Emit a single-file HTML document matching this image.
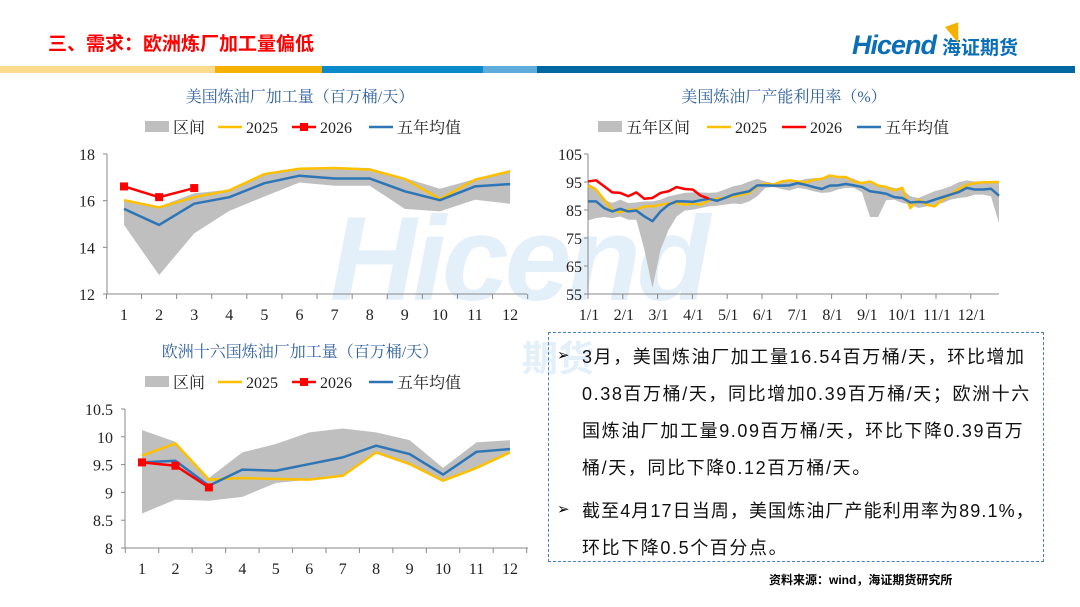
<!DOCTYPE html>
<html><head><meta charset="utf-8">
<style>
body{margin:0;width:1080px;height:607px;overflow:hidden;background:#fff;font-family:"Liberation Sans","Noto Sans CJK SC",sans-serif;position:relative}
.abs{position:absolute}
#hdr{left:48px;top:29px;color:#f00;font-size:19px;font-weight:bold;font-family:"Noto Sans CJK SC",sans-serif}
.bar{position:absolute;top:66px;height:7px}
#box{left:548px;top:332px;width:496px;height:230px;border:1.5px dashed #4a7cc0;box-sizing:border-box}
.txt{position:absolute;left:582px;font-size:18px;color:#111;font-family:"Liberation Sans","Noto Sans CJK SC",sans-serif;white-space:nowrap;letter-spacing:1.6px}
.arr{position:absolute;left:557px;font-size:15px}
svg text{font-family:"Liberation Serif","Noto Serif CJK SC",serif}
</style></head><body>
<div class="abs" style="left:330px;top:190px;font-size:120px;font-weight:bold;font-style:italic;color:#e4f0f9;font-family:'Liberation Sans',sans-serif;letter-spacing:-4px">Hicend</div>
<div class="abs" style="left:522px;top:330px;font-size:36px;font-weight:bold;color:#e4f0f9;font-family:'Noto Sans CJK SC',sans-serif">期货</div>
<div id="hdr" class="abs">三、需求：欧洲炼厂加工量偏低</div>
<div class="abs" style="left:852px;top:30px;font-size:27px;font-weight:bold;font-style:italic;color:#0a6fb6;letter-spacing:-1px">Hicend<span style="font-size:19px;font-style:normal;font-family:'Noto Sans CJK SC',sans-serif;margin-left:6px;letter-spacing:0">海证期货</span></div>
<div class="abs" style="left:948px;top:24px;width:0;height:0;border-left:7px solid transparent;border-right:7px solid transparent;border-top:20px solid #f5b000;transform:rotate(-20deg)"></div>
<div class="bar" style="left:0;width:215px;background:#fadc8c"></div>
<div class="bar" style="left:215px;width:107px;background:#f5b000"></div>
<div class="bar" style="left:322px;width:161px;background:#0a8ac8"></div>
<div class="bar" style="left:483px;width:54px;background:#5eacdc"></div>
<div class="bar" style="left:537px;width:538px;background:#0068a0"></div>

<svg id="svg" class="abs" style="left:0;top:0" width="1080" height="607"></svg>

<div id="box" class="abs"></div>
<div class="arr" style="top:346px">➢</div>
<div class="txt" style="top:343px">3月，美国炼油厂加工量16.54百万桶/天，环比增加</div>
<div class="txt" style="top:380px">0.38百万桶/天，同比增加0.39百万桶/天；欧洲十六</div>
<div class="txt" style="top:417px">国炼油厂加工量9.09百万桶/天，环比下降0.39百万</div>
<div class="txt" style="top:454px">桶/天，同比下降0.12百万桶/天。</div>
<div class="arr" style="top:500px">➢</div>
<div class="txt" style="top:497px;letter-spacing:1.1px">截至4月17日当周，美国炼油厂产能利用率为89.1%，</div>
<div class="txt" style="top:534px">环比下降0.5个百分点。</div>
<div class="abs" style="left:769px;top:571px;font-size:12px;font-weight:bold;font-family:'Liberation Sans','Noto Sans CJK SC',sans-serif">资料来源：wind，海证期货研究所</div>

<script>
// US refinery runs
const usMonths=[1,2,3,4,5,6,7,8,9,10,11,12];
const usHigh=[16.04,15.75,16.32,16.47,17.18,17.40,17.44,17.40,16.97,16.51,16.93,17.30];
const usLow=[14.96,12.81,14.60,15.56,16.18,16.78,16.64,16.64,15.65,15.54,16.04,15.87];
const us2025=[16.02,15.71,16.15,16.44,17.14,17.37,17.40,17.33,16.93,16.07,16.90,17.26];
const us2026=[16.61,16.15,16.54];
const usAvg=[15.65,14.96,15.87,16.15,16.75,17.07,16.95,16.95,16.40,16.02,16.61,16.71];
const usTicks=[12,14,16,18];
// Europe refinery runs
const euHigh=[10.12,9.91,9.26,9.72,9.87,10.08,10.15,10.08,9.94,9.44,9.90,9.94];
const euLow=[8.62,8.87,8.85,8.92,9.17,9.23,9.30,9.70,9.50,9.21,9.44,9.70];
const eu2025=[9.66,9.88,9.23,9.26,9.24,9.23,9.30,9.72,9.51,9.21,9.44,9.72];
const eu2026=[9.54,9.48,9.09];
const euAvg=[9.54,9.57,9.12,9.41,9.39,9.51,9.63,9.84,9.69,9.32,9.73,9.78];
const euTicks=[8,8.5,9,9.5,10,10.5];
const euTickLabels=["8","8.5","9","9.5","10","10.5"];
// US utilization weekly
const utMonthLabels=["1/1","2/1","3/1","4/1","5/1","6/1","7/1","8/1","9/1","10/1","11/1","12/1"];
const utTicks=[55,65,75,85,95,105];
const ut2025=[93.7,92.3,88.7,84.9,84.2,85.1,85.1,86.3,86.3,86.9,87.3,87.5,86.9,87.3,86.9,88.5,89.0,89.3,89.9,90.5,91.1,93.5,94.4,94.0,95.2,95.6,95.2,94.9,95.8,96.1,97.3,96.8,96.8,95.2,94.6,95.2,93.7,93.2,92.0,92.9,85.7,88.7,86.9,86.3,88.7,90.5,92.5,94.0,94.6,94.9,94.9,95.0];
const utAvg=[88.1,88.1,85.7,84.5,85.4,84.5,84.8,82.7,81.0,84.5,86.9,88.1,88.1,87.9,88.5,89.0,88.3,89.3,90.5,91.1,91.7,93.8,93.8,93.7,93.7,93.8,94.6,94.0,93.2,92.5,93.7,93.8,94.3,93.8,93.2,91.7,91.3,90.8,89.6,89.3,87.7,87.9,87.7,88.7,89.6,90.5,91.4,92.9,92.3,92.3,92.6,90.1];
const ut2026=[95.2,95.6,93.5,91.3,91.1,89.9,91.3,89.0,89.3,91.1,91.7,93.2,92.5,92.3,90.1,89.1];
const utHigh=[94.6,92.9,88.7,87.5,88.7,87.5,87.7,88.1,88.1,88.7,89.9,90.5,91.1,91.3,91.3,91.1,91.3,92.3,93.5,94.0,95.2,96.1,95.2,94.6,95.2,95.8,95.2,96.1,96.4,96.4,97.3,96.8,97.0,96.1,94.9,95.2,94.0,93.5,92.9,92.3,89.9,89.3,90.5,91.7,92.5,93.5,94.9,95.6,95.2,95.2,95.2,95.2];
const utLow=[81.3,82.1,82.5,82.1,82.7,81.5,81.5,70.8,57.1,70.8,77.9,82.7,84.8,85.1,85.7,86.3,86.5,86.9,87.3,87.1,88.1,89.9,92.9,93.2,92.5,91.9,92.9,92.5,91.7,91.1,91.3,92.3,92.9,92.9,91.3,82.5,82.5,88.5,88.7,87.5,86.9,85.7,86.3,86.9,87.5,88.7,89.3,89.6,90.5,90.5,89.9,80.4];

const S=document.getElementById('svg');const NS="http://www.w3.org/2000/svg";
function mk(t,a,name,parent){const e=document.createElementNS(NS,t);for(const k in a)e.setAttribute(k,a[k]);


(parent||S).appendChild(e);return e;}
function txt(x,y,s,name,o){const e=mk('text',Object.assign({x:x,y:y,'font-size':15,fill:'#222'},o||{}),name);e.textContent=s;return e;}
function pts(arr,fx,fy){return arr.map((v,i)=>fx(i)+','+fy(v)).join(' ');}
function band(hi,lo,fx,fy,name){const p=hi.map((v,i)=>fx(i)+','+fy(v)).concat(lo.map((v,i)=>[fx(i),fy(v)]).reverse().map(a=>a.join(','))).join(' ');mk('polygon',{points:p,fill:'#bfbfbf'},name);}
function line(a,fx,fy,c,w,name){mk('polyline',{points:pts(a,fx,fy),fill:'none',stroke:c,'stroke-width':w,'stroke-linejoin':'round'},name);}
function legend(y,items){items.forEach(it=>{
 if(it.t==='box')mk('rect',{x:it.x,y:y-6,width:24,height:11,fill:'#bfbfbf'},'legend-swatch-'+it.n);
 else{mk('line',{x1:it.x,y1:y,x2:it.x+24,y2:y,stroke:it.c,'stroke-width':2.5},'legend-swatch-'+it.n);
  if(it.sq)mk('rect',{x:it.x+8,y:y-4,width:8,height:8,fill:it.c},'legend-marker-'+it.n);}
 txt(it.x+28,y+6,it.l,'legend-label-'+it.n,{'font-size':16,'font-family':'"Liberation Sans","Noto Sans CJK SC",sans-serif'});});}
function monthChart(cfg){
 const {x0,x1,yTop,yBot,vmin,vmax,first,step,hi,lo,a25,a26,avg,ticks,tlabels,pref}=cfg;
 const fy=v=>yBot-(v-vmin)/(vmax-vmin)*(yBot-yTop);const fx=i=>first+i*step;
 band(hi,lo,fx,fy,pref+'-range-band');
 mk('line',{x1:x0,y1:yTop,x2:x0,y2:yBot,stroke:'#888'},pref+'-y-axis');
 mk('line',{x1:x0,y1:yBot,x2:x1,y2:yBot,stroke:'#888'},pref+'-x-axis');
 ticks.forEach((t,i)=>{mk('line',{x1:x0-4,y1:fy(t),x2:x0,y2:fy(t),stroke:'#888'},pref+'-y-tick');txt(x0-12,fy(t)+6,tlabels[i],pref+'-y-tick-label',{'text-anchor':'end','font-size':16});});
 for(let i=0;i<=12;i++){const x=first-step/2+i*step;mk('line',{x1:x,y1:yBot,x2:x,y2:yBot+5,stroke:'#888'},pref+'-x-tick');}
 usMonths.forEach((m,i)=>txt(fx(i),yBot+26,String(m),pref+'-x-tick-label',{'text-anchor':'middle','font-size':16}));
 line(a25,fx,fy,'#ffc000',2.5,pref+'-line-2025');
 line(avg,fx,fy,'#2e75b6',2.5,pref+'-line-avg');
 line(a26,fx,fy,'#ff0000',2.5,pref+'-line-2026');
 a26.forEach((v,i)=>mk('rect',{x:fx(i)-4,y:fy(v)-4,width:8,height:8,fill:'#ff0000'},pref+'-marker-2026'));
}
// chart 1
txt(300,102,'美国炼油厂加工量（百万桶/天）','us-runs-title',{'text-anchor':'middle','font-size':16,fill:'#2e5f9e','font-family':'"Liberation Sans","Noto Sans CJK SC",sans-serif'});
legend(127,[{t:'box',x:145,l:'区间',n:'range'},{x:218,c:'#ffc000',l:'2025',n:'2025'},{x:292,c:'#ff0000',sq:1,l:'2026',n:'2026'},{x:369,c:'#2e75b6',l:'五年均值',n:'avg'}]);
monthChart({x0:107,x1:527,yTop:154,yBot:294,vmin:12,vmax:18,first:124,step:35.1,hi:usHigh,lo:usLow,a25:us2025,a26:us2026,avg:usAvg,ticks:usTicks,tlabels:usTicks.map(String),pref:'us-runs'});
// chart 3
txt(300,357,'欧洲十六国炼油厂加工量（百万桶/天）','eu-runs-title',{'text-anchor':'middle','font-size':16,fill:'#2e5f9e','font-family':'"Liberation Sans","Noto Sans CJK SC",sans-serif'});
legend(382,[{t:'box',x:145,l:'区间',n:'eu-range'},{x:218,c:'#ffc000',l:'2025',n:'eu-2025'},{x:292,c:'#ff0000',sq:1,l:'2026',n:'eu-2026'},{x:369,c:'#2e75b6',l:'五年均值',n:'eu-avg'}]);
monthChart({x0:125,x1:528,yTop:409,yBot:548,vmin:8,vmax:10.5,first:142,step:33.45,hi:euHigh,lo:euLow,a25:eu2025,a26:eu2026,avg:euAvg,ticks:euTicks,tlabels:euTickLabels,pref:'eu-runs'});
// chart 2
(function(){
 const x0=588,x1=999,yTop=154,yBot=294,vmin=55,vmax=105,first=588,wstep=(999-588)/51,mstep=34.8;
 const fy=v=>yBot-(v-vmin)/(vmax-vmin)*(yBot-yTop);const fx=i=>first+i*wstep;
 txt(784,102,'美国炼油厂产能利用率（%）','util-title',{'text-anchor':'middle','font-size':16,fill:'#2e5f9e','font-family':'"Liberation Sans","Noto Sans CJK SC",sans-serif'});
 legend(127,[{t:'box',x:598,l:'五年区间',n:'util-range'},{x:707,c:'#ffc000',l:'2025',n:'util-2025'},{x:782,c:'#ff0000',l:'2026',n:'util-2026'},{x:857,c:'#2e75b6',l:'五年均值',n:'util-avg'}]);
 band(utHigh,utLow,fx,fy,'util-range-band');
 mk('line',{x1:x0,y1:yTop,x2:x0,y2:yBot,stroke:'#888'},'util-y-axis');
 mk('line',{x1:x0,y1:yBot,x2:x1,y2:yBot,stroke:'#888'},'util-x-axis');
 utTicks.forEach(t=>{mk('line',{x1:x0-4,y1:fy(t),x2:x0,y2:fy(t),stroke:'#888'},'util-y-tick');txt(x0-6,fy(t)+6,String(t),'util-y-tick-label',{'text-anchor':'end','font-size':16});});
 utMonthLabels.forEach((m,i)=>{const x=x0+i*mstep;mk('line',{x1:x,y1:yBot,x2:x,y2:yBot+5,stroke:'#888'},'util-x-tick');txt(x+1,yBot+26,m,'util-x-tick-label',{'text-anchor':'middle','font-size':16});});
 line(ut2025,fx,fy,'#ffc000',2.5,'util-line-2025');
 line(utAvg,fx,fy,'#2e75b6',2.5,'util-line-avg');
 line(ut2026,fx,fy,'#ff0000',2.5,'util-line-2026');
})();
</script>
</body></html>
